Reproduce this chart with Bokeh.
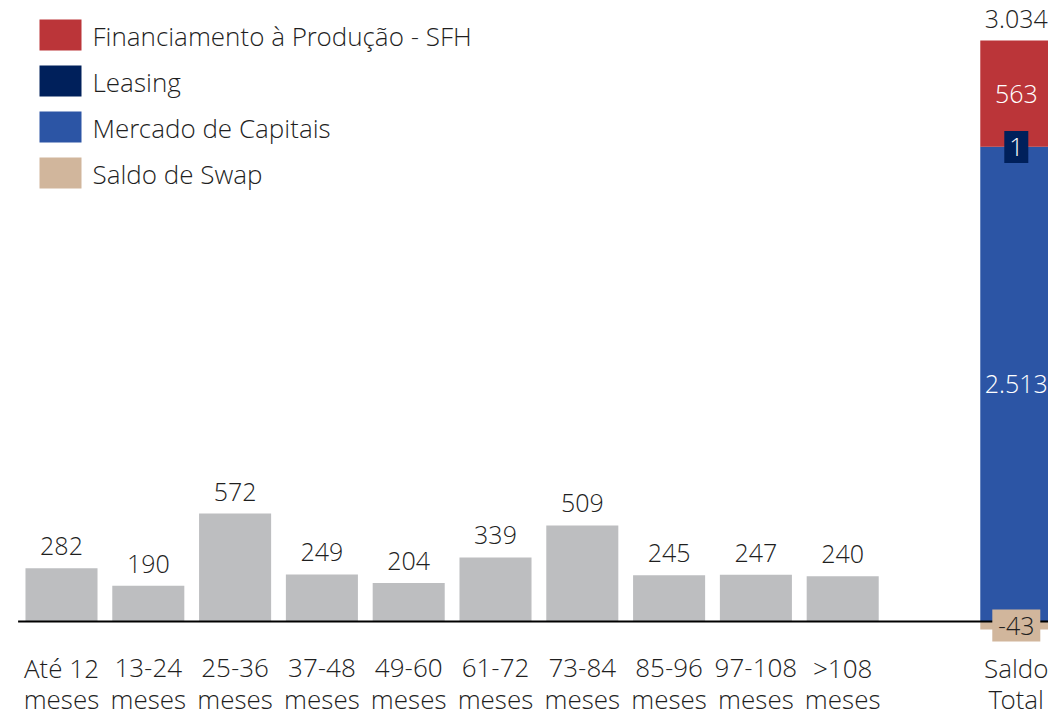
from bokeh.plotting import figure
from bokeh.models import ColumnDataSource, Range1d
from bokeh.core.properties import value
from bokeh.embed import file_html
from bokeh.resources import INLINE

# ---- data ----
maturity_line1 = ["Até 12", "13-24", "25-36", "37-48", "49-60", "61-72", "73-84", "85-96", "97-108", ">108"]
maturity_line2 = ["meses"] * 10
maturity_values = [282, 190, 572, 249, 204, 339, 509, 245, 247, 240]
total_label = ["Saldo", "Total"]
series_names = ["Financiamento à Produção - SFH", "Leasing", "Mercado de Capitais", "Saldo de Swap"]
swap = -43
mercado = 2513
leasing = 1
sfh = 563

# ---- styling ----
FONT = "Open Sans Light, Open Sans"
FS = "25px"
FS_CAT = "26px"
TXT = "#1F1F1F"
GREY = "#BDBEC0"
RED = "#BB3539"
NAVY = "#00205B"
BLUE = "#2C55A5"
TAN = "#D1B69C"

W, H = 1048, 714
SLOT = 86.8
X0 = -61 / SLOT
S = 0.1888           # px per unit
BASE = 621           # baseline pixel from top
Y1 = BASE / S
Y0 = Y1 - H / S


def dx(px):
    return X0 + px / SLOT


def dy(py):
    return Y1 - py / S


def fmt(v):
    return f"{v:,}".replace(",", ".")


p = figure(width=W, height=H, output_backend="svg", toolbar_location=None,
           x_range=Range1d(X0, X0 + W / SLOT), y_range=Range1d(Y0, Y1),
           min_border=0, min_border_left=0, min_border_right=0,
           min_border_top=0, min_border_bottom=0)
p.axis.visible = False
p.grid.visible = False
p.outline_line_color = None
p.background_fill_color = "white"
p.border_fill_color = "white"

xs = list(range(len(maturity_values)))
BW = 0.83

src = ColumnDataSource(dict(x=xs, top=maturity_values,
                            lab=[fmt(v) for v in maturity_values]))
p.vbar(x="x", top="top", bottom=0, width=BW, source=src, fill_color=GREY, line_color=None)
p.text(x="x", y="top", text="lab", source=src, y_offset=-22, text_align="center",
       text_baseline="middle", text_font=value(FONT), text_font_size=FS, text_color=TXT)

# stacked total bar (positive parts stacked from 0, swap below 0)
xt = len(maturity_values) + 1
b_blue1 = mercado
b_lea1 = b_blue1 + leasing
b_sfh1 = b_lea1 + sfh
total = mercado + leasing + sfh + swap

p.vbar(x=[xt], bottom=[0], top=[b_blue1], width=BW, fill_color=BLUE, line_color=None)
p.vbar(x=[xt], bottom=[swap], top=[0], width=BW, fill_color=TAN, line_color=None)
p.vbar(x=[xt], bottom=[b_blue1], top=[b_lea1], width=BW, fill_color=NAVY, line_color=None)
p.vbar(x=[xt], bottom=[b_lea1], top=[b_sfh1], width=BW, fill_color=RED, line_color=None)

# baseline
p.line(x=[-0.5, X0 + W / SLOT], y=[0, 0], line_color="black", line_width=2)

# segment labels
p.text(x=[xt], y=[b_sfh1], text=[fmt(total)], y_offset=-22, text_align="center",
       text_baseline="middle", text_font=value(FONT), text_font_size=FS, text_color=TXT)
p.text(x=[xt], y=[(b_lea1 + b_sfh1) / 2], text=[fmt(sfh)], text_align="center",
       text_baseline="middle", text_font=value(FONT), text_font_size=FS, text_color="white")
p.text(x=[xt], y=[b_blue1 / 2], text=[fmt(mercado)], text_align="center",
       text_baseline="middle", text_font=value(FONT), text_font_size=FS, text_color="white")
p.rect(x=[xt], y=[(b_blue1 + b_lea1) / 2], width=24, height=32, width_units="screen",
       height_units="screen", fill_color=NAVY, line_color=None)
p.text(x=[xt], y=[(b_blue1 + b_lea1) / 2], text=[fmt(leasing)], text_align="center",
       text_baseline="middle", text_font=value(FONT), text_font_size=FS, text_color="white")
p.rect(x=[xt], y=[swap / 2], width=48, height=32, width_units="screen",
       height_units="screen", fill_color=TAN, line_color=None)
p.text(x=[xt], y=[swap / 2], text=[fmt(swap)], text_align="center",
       text_baseline="middle", text_font=value(FONT), text_font_size=FS, text_color=TXT)

# category labels (two lines)
cat_x = xs + [xt]
l1 = maturity_line1 + [total_label[0]]
l2 = maturity_line2 + [total_label[1]]
p.text(x=cat_x, y=[0] * len(cat_x), text=l1, y_offset=46, text_align="center",
       text_baseline="middle", text_font=value(FONT), text_font_size=FS_CAT, text_color=TXT)
p.text(x=cat_x, y=[0] * len(cat_x), text=l2, y_offset=77, text_align="center",
       text_baseline="middle", text_font=value(FONT), text_font_size=FS_CAT, text_color=TXT)

# legend (manual)
leg_colors = [RED, NAVY, BLUE, TAN]
for i, (name, c) in enumerate(zip(series_names, leg_colors)):
    cy = 34.5 + 46 * i
    p.rect(x=[dx(60)], y=[dy(cy)], width=42, height=31, width_units="screen",
           height_units="screen", fill_color=c, line_color=None)
    p.text(x=[dx(92)], y=[dy(cy + 1)], text=[name], text_align="left",
           text_baseline="middle", text_font=value(FONT), text_font_size=FS_CAT, text_color=TXT)

open("out.html", "w").write(file_html(p, INLINE))
